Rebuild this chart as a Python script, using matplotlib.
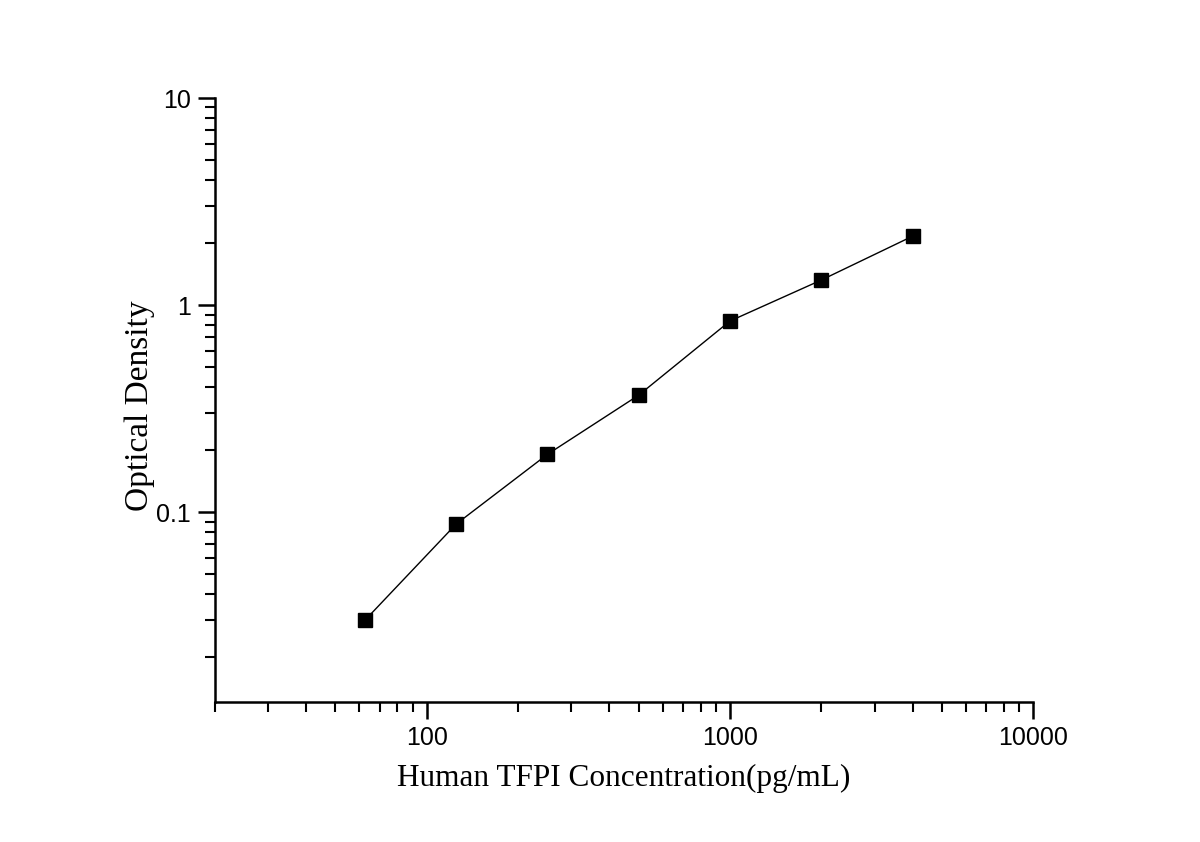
import numpy as np
import matplotlib
matplotlib.use("Agg")
import matplotlib.pyplot as plt
from matplotlib.ticker import LogLocator, FixedLocator, NullFormatter, FixedFormatter

# standard curve data
concentration = [62.5, 125, 250, 500, 1000, 2000, 4000]
optical_density = [0.030, 0.0875, 0.190, 0.367, 0.837, 1.32, 2.15]

x_ticks = [100, 1000, 10000]
x_tick_labels = ["100", "1000", "10000"]
y_ticks = [0.1, 1, 10]
y_tick_labels = ["0.1", "1", "10"]

fig = plt.figure(figsize=(12, 8.42), dpi=100)
ax = fig.add_axes([0.179, 0.1663, 0.682, 0.7173])

ax.plot(concentration, optical_density, color="black", linewidth=1.0,
        marker="s", markersize=9.5, markerfacecolor="black",
        markeredgecolor="black")

ax.set_xscale("log")
ax.set_yscale("log")
ax.set_xlim(20, 10000)
ax.set_ylim(0.0121, 10)

ax.xaxis.set_major_locator(FixedLocator(x_ticks))
ax.xaxis.set_major_formatter(FixedFormatter(x_tick_labels))
ax.yaxis.set_major_locator(FixedLocator(y_ticks))
ax.yaxis.set_major_formatter(FixedFormatter(y_tick_labels))
ax.xaxis.set_minor_locator(LogLocator(base=10, subs=np.arange(2, 10)))
ax.yaxis.set_minor_locator(LogLocator(base=10, subs=np.arange(2, 10)))
ax.xaxis.set_minor_formatter(NullFormatter())
ax.yaxis.set_minor_formatter(NullFormatter())

for side in ["top", "right"]:
    ax.spines[side].set_visible(False)
for side in ["left", "bottom"]:
    ax.spines[side].set_linewidth(1.8)

ax.tick_params(which="major", direction="out", length=12, width=1.8,
               labelsize=18, pad=5)
ax.tick_params(which="minor", direction="out", length=7, width=1.5)
for lbl in ax.get_xticklabels() + ax.get_yticklabels():
    lbl.set_fontfamily("Liberation Sans")

ax.set_xlabel("Human TFPI Concentration(pg/mL)", fontfamily="Liberation Serif",
              fontsize=22.5, labelpad=10)
ax.set_ylabel("Optical Density", fontfamily="Liberation Serif",
              fontsize=24, labelpad=2)
ax.yaxis.set_label_coords(-0.073, 0.49)

fig.savefig("out.png", dpi=100)
